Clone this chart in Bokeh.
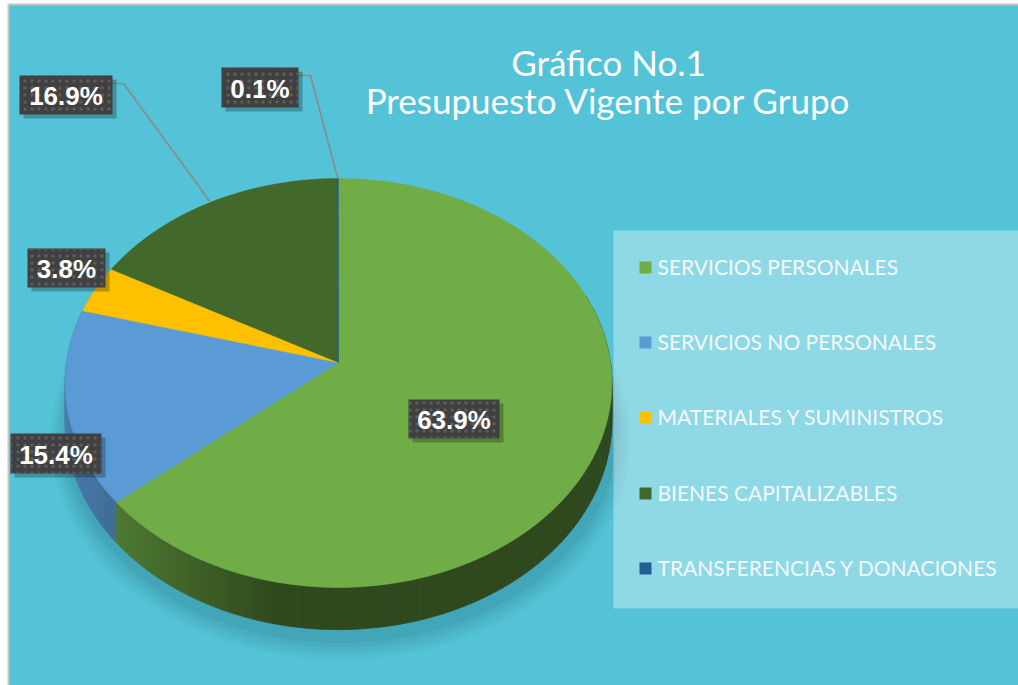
import numpy as np
from bokeh.plotting import figure
from bokeh.models import Range1d
from bokeh.core.properties import value
from bokeh.embed import file_html
from bokeh.resources import INLINE

# ---------------- data ----------------
categories = ["SERVICIOS PERSONALES", "SERVICIOS NO PERSONALES", "MATERIALES Y SUMINISTROS",
              "BIENES CAPITALIZABLES", "TRANSFERENCIAS Y DONACIONES"]
percentages = [63.9, 15.4, 3.8, 16.9, 0.1]
labels = ["63.9%", "15.4%", "3.8%", "16.9%", "0.1%"]
colors = ["#70AD47", "#5B9BD5", "#FFC000", "#43682B", "#255E91"]
title_lines = ["Gráfico No.1", "Presupuesto Vigente por Grupo"]

# ---------------- layout ----------------
BG = "#54C3D7"
W, H = 1018, 685

p = figure(width=W, height=H, x_range=Range1d(0, W), y_range=Range1d(H, 0),
           output_backend="svg", toolbar_location=None, min_border=0,
           background_fill_color="white", border_fill_color="white",
           outline_line_color=None)
p.axis.visible = False
p.grid.visible = False

# chart area background with light grey frame
p.quad(left=[8], right=[W + 5], top=[4], bottom=[H + 5], fill_color=BG,
       line_color="#C4C4C4", line_width=2)

# perspective pie geometry
CX, CY = 338.0, 362.0
A, B, C, D = 272.0, 202.4, 0.1002, 38.0


def proj(theta, r=1.0, depth=0.0):
    u = r * np.sin(theta)
    v = r * np.cos(theta)
    w = 1 + C * v
    return CX + A * u / w, CY + (-B * v + depth) / w


total = float(sum(percentages))
fr = np.array(percentages) / total
ends = np.cumsum(fr) * 2 * np.pi
starts = ends - fr * 2 * np.pi

# soft shadow
tt = np.linspace(0, 2 * np.pi, 240)
sx, sy = proj(tt, 1.0, D)
for k, a in enumerate([0.05, 0.05, 0.06, 0.07, 0.08]):
    s = 1.06 - 0.012 * k
    xs = CX + (sx - CX) * s + 2
    ys = CY + 8 + (sy - CY) * s + 6 - k
    p.patch(list(xs), list(ys), fill_color="#1f5d6b", fill_alpha=a, line_color=None)

# side walls
side_xs, side_ys, side_cols, side_order = [], [], [], []
for i in range(len(percentages)):
    n = max(2, int(np.degrees(ends[i] - starts[i]) / 1.5) + 2)
    th = np.linspace(starts[i], ends[i], n)
    base = np.array([int(colors[i][j:j + 2], 16) for j in (1, 3, 5)], dtype=float)
    for a0, a1 in zip(th[:-1], th[1:]):
        tm = 0.5 * (a0 + a1)
        if np.cos(tm) > 0.35:
            continue
        x0, y0 = proj(a0)
        x1, y1 = proj(a1)
        x2, y2 = proj(a1, 1.0, D)
        x3, y3 = proj(a0, 1.0, D)
        u = np.sin(tm)
        f = 0.42 + 0.5 * max(0.0, -u - 0.2)
        c = np.clip(base * f, 0, 255).astype(int)
        side_xs.append([x0, x1, x2, x3])
        side_ys.append([y0, y1, y2, y3])
        side_cols.append("#%02x%02x%02x" % tuple(c))
        side_order.append(np.cos(tm))
order = np.argsort(-np.array(side_order))
p.patches([side_xs[k] for k in order], [side_ys[k] for k in order],
          fill_color=[side_cols[k] for k in order], line_color=[side_cols[k] for k in order],
          line_width=0.6)

# top faces
top_xs, top_ys = [], []
for i in range(len(percentages)):
    n = max(3, int(np.degrees(ends[i] - starts[i])) + 2)
    th = np.linspace(starts[i], ends[i], n)
    x, y = proj(th)
    top_xs.append([CX] + list(x))
    top_ys.append([CY] + list(y))
p.patches(top_xs, top_ys, fill_color=colors, line_color=colors, line_width=0.5)

# leader lines (outside labels of the two top slices)
leader_elbows = {3: [(112, 83), (123, 83)],
                 4: [(298, 75), (310, 75)]}
for i, pts in leader_elbows.items():
    mid = 0.5 * (starts[i] + ends[i])
    ex, ey = proj(mid)
    p.line([pts[0][0], pts[1][0], ex], [pts[0][1], pts[1][1], ey],
           line_color="#8A8A8A", line_width=1.6)

# data labels (box centre x, centre y, width, height)
label_boxes = [(453.5, 418.5, 91, 39), (55.5, 453, 91, 40), (66, 267.5, 78, 39),
               (65.5, 94.5, 93, 39), (259.5, 87, 77, 40)]
bx = [b[0] for b in label_boxes]
by = [b[1] for b in label_boxes]
bw = [b[2] for b in label_boxes]
bh = [b[3] for b in label_boxes]
p.rect([x + 4 for x in bx], [y + 4 for y in by], bw, bh, fill_color="black",
       fill_alpha=0.25, line_color=None)
p.rect(bx, by, bw, bh, fill_color="#404040", line_color=None,
       hatch_pattern="dot", hatch_color="#5c5c5c", hatch_scale=7, hatch_weight=1.5)
p.text(bx, [y + 1 for y in by], text=labels, text_color="white",
       text_font=value("Liberation Sans"),
       text_font_style="bold", text_font_size="26px",
       text_align="center", text_baseline="middle")

# title
p.text([608, 608], [61, 99], text=title_lines, text_color="white",
       text_font=value("Lato"), text_font_size="35px",
       text_align="center", text_baseline="alphabetic")

# legend
p.quad(left=[613], right=[W + 2], top=[230], bottom=[608],
       fill_color="white", fill_alpha=0.35, line_color=None)
leg_y = [267, 342, 417, 493, 568]
p.rect([645] * 5, leg_y, 12, 12, fill_color=colors, line_color=None)
p.text([657] * 5, [y - 1 for y in leg_y], text=categories, text_color="#F4FAFB",
       text_font=value("Lato"), text_font_size="21px",
       text_align="left", text_baseline="middle")

open("out.html", "w").write(file_html(p, INLINE))
